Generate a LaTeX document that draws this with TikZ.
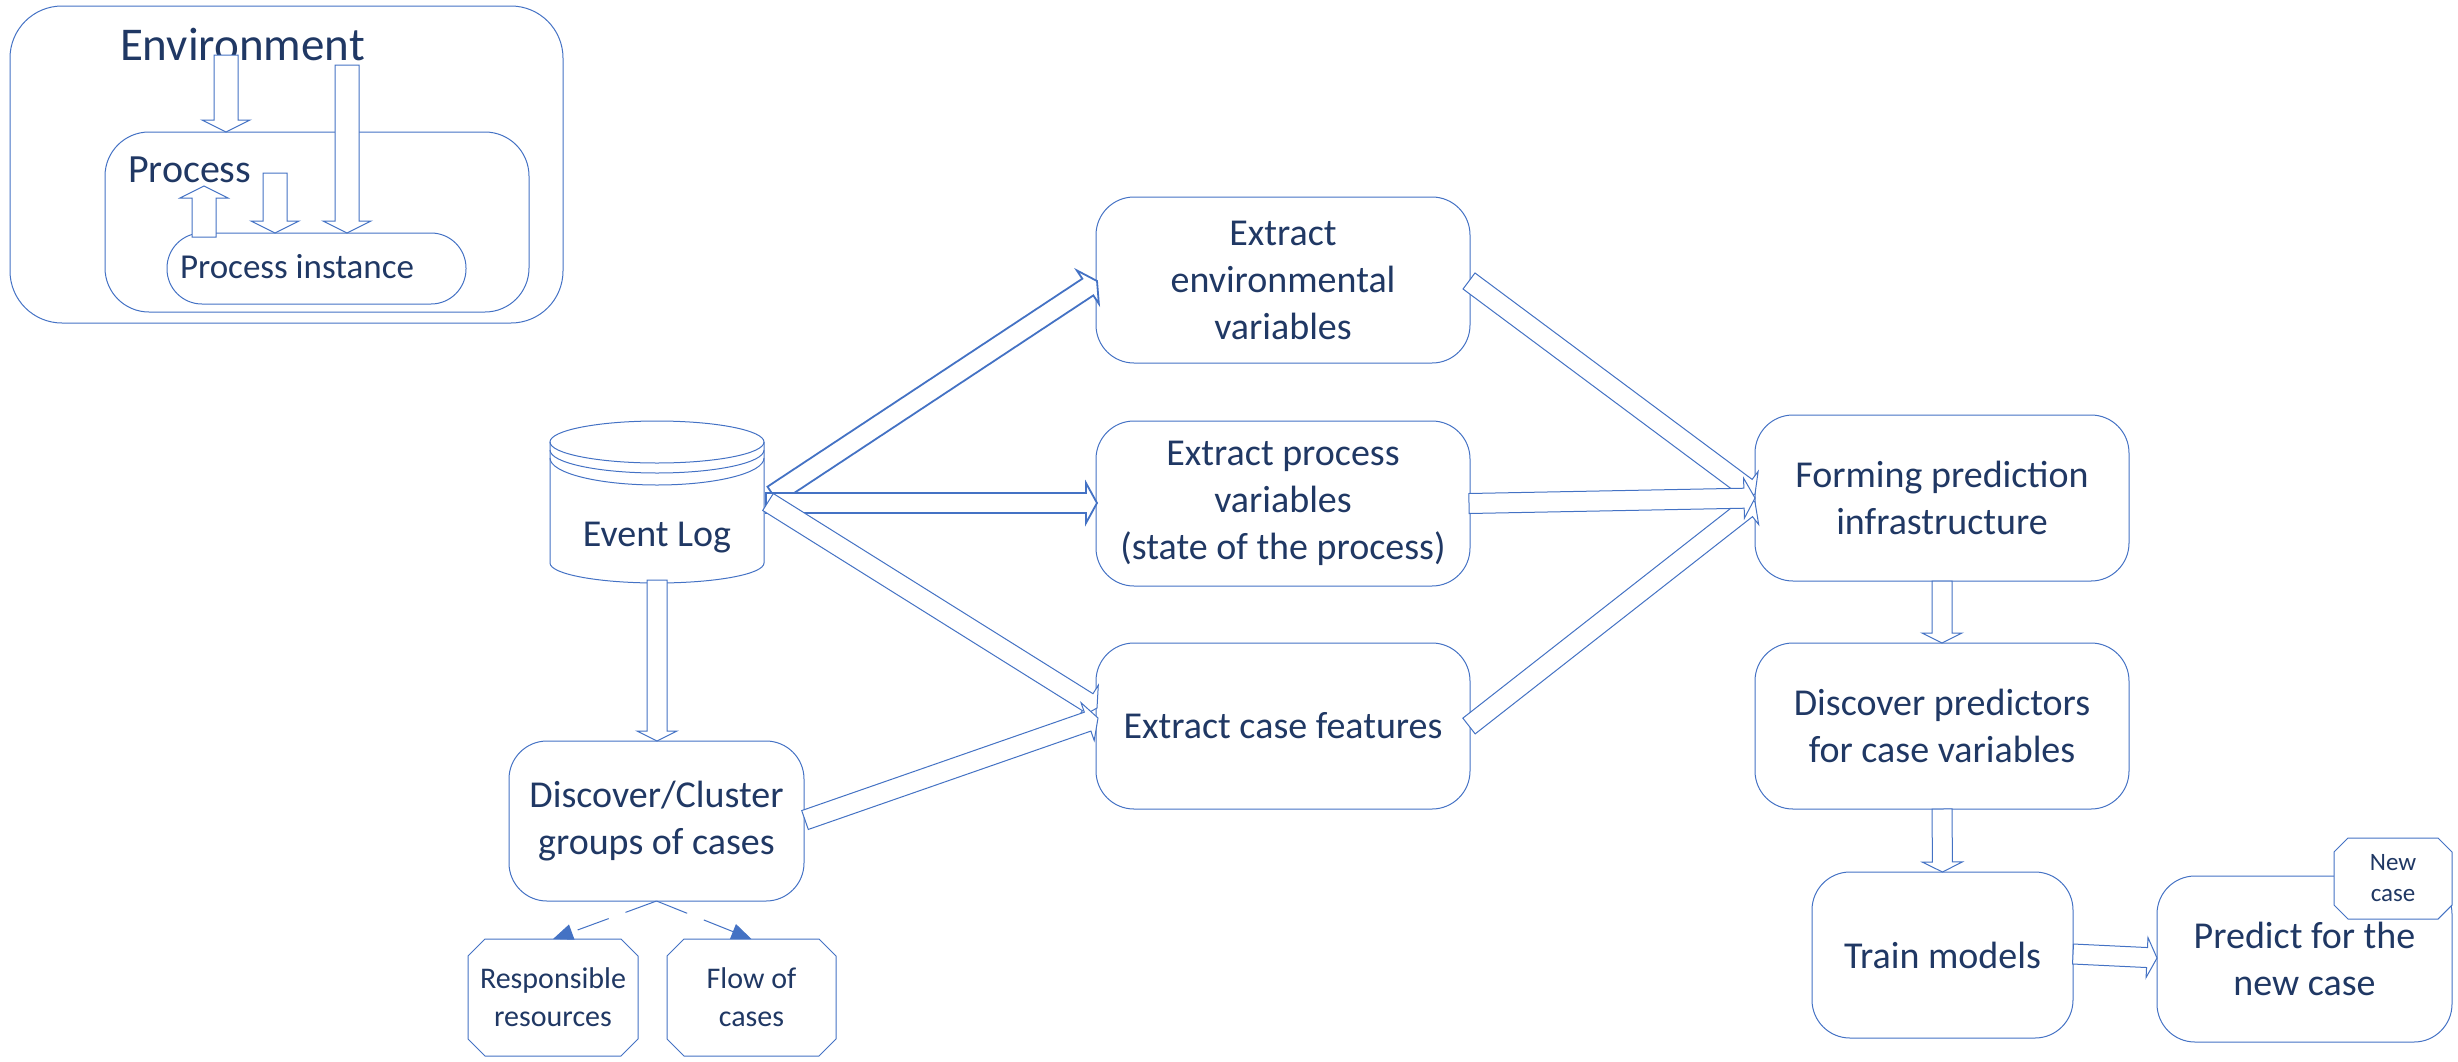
\documentclass[tikz,border=0pt]{standalone}
\usepackage{fontspec}
\setmainfont{Carlito}
\usetikzlibrary{calc,arrows.meta}
\definecolor{lineblue}{HTML}{4472C4}
\definecolor{textblue}{HTML}{203864}

\tikzset{
  stage/.style={draw=lineblue, line width=1pt, rounded corners=38pt, inner sep=0pt, outer sep=0pt,
    align=center, text=textblue, font=\fontsize{38}{47}\selectfont},
  tag/.style={inner sep=0pt, outer sep=0pt, align=center, text=textblue},
  octoline/.style={draw=lineblue, fill=white, line width=1pt, line join=miter},
  blockarrow/.style={draw=lineblue, fill=white, line width=1pt, line join=miter},
  boldarrow/.style={line width=1.8pt},
  dashlink/.style={draw=lineblue, line width=1pt, dash pattern=on 33pt off 18pt,
    -{Triangle[length=20pt,width=16pt]}},
}

% block arrow: [style]{tail}{tip}{half shaft}{half head}{head length}
\newcommand\blockarr[6][]{%
  \coordinate (bahead) at ($(#3)!#6!(#2)$);
  \draw[blockarrow,#1] ($(#2)!#4!90:(#3)$) -- ($(bahead)!#4!90:(#3)$) -- ($(bahead)!#5!90:(#3)$)
    -- (#3) -- ($(bahead)!#5!-90:(#3)$) -- ($(bahead)!#4!-90:(#3)$) -- ($(#2)!#4!-90:(#3)$) -- cycle;
}

% octagon frame: {cx}{cy}{half width}{half height}{chamfer}
\newcommand\octframe[5]{%
  \draw[octoline] ({#1-#3+#5},{#2-#4}) -- ({#1+#3-#5},{#2-#4}) -- ({#1+#3},{#2-#4+#5})
    -- ({#1+#3},{#2+#4-#5}) -- ({#1+#3-#5},{#2+#4}) -- ({#1-#3+#5},{#2+#4})
    -- ({#1-#3},{#2+#4-#5}) -- ({#1-#3},{#2-#4+#5}) -- cycle;
}

\begin{document}
\begin{tikzpicture}[x=1pt,y=-1pt]
\useasboundingbox (0,0) rectangle (2458,1061);

% ---------- context: environment / process / instance ----------
\node[stage, rounded corners=52pt, minimum width=553pt, minimum height=317pt] (envbox) at (286.5,164.5) {};
\node[stage, rounded corners=44pt, minimum width=424pt, minimum height=180pt] (procbox) at (317,222) {};
\node[stage, rounded corners=35pt, minimum width=299pt, minimum height=71pt] (instbox) at (316.5,268.5) {};
\node[tag, anchor=base west, font=\fontsize{47}{56}\selectfont] (envlabel) at (120,60) {Environment};
\node[tag, anchor=base west, font=\fontsize{40}{48}\selectfont] (proclabel) at (128,182) {Process};
\node[tag, anchor=base west, font=\fontsize{35}{42}\selectfont] (instlabel) at (180,278) {Process instance};

\coordinate (ca1) at (226,55);  \coordinate (cb1) at (procbox.north -| ca1);
\coordinate (ca2) at (347,65);  \coordinate (cb2) at (instbox.north -| ca2);
\coordinate (ca3) at (275,173); \coordinate (cb3) at (instbox.north -| ca3);
\coordinate (ca4) at (204,237); \coordinate (cb4) at (204,186);
\blockarr{ca1}{cb1}{12pt}{24pt}{12pt}
\blockarr{ca2}{cb2}{12pt}{24pt}{12pt}
\blockarr{ca3}{cb3}{12pt}{24pt}{12pt}
\blockarr{ca4}{cb4}{12pt}{24pt}{12pt}

% ---------- event log cylinder ----------
\node[tag, minimum width=214pt, minimum height=162pt] (evlog) at (657,502) {};
\begin{scope}[line width=1pt]
  \draw[lineblue] (657,442) ellipse [x radius=107pt, y radius=21pt];
  \draw[lineblue] (550,450) arc[start angle=180, end angle=360, x radius=107pt, y radius=23pt];
  \draw[lineblue] (550,458) arc[start angle=180, end angle=360, x radius=107pt, y radius=27pt];
  \draw[lineblue] (550,442) -- (550,563) arc[start angle=180, end angle=360, x radius=107pt, y radius=20pt] -- (764,442);
\end{scope}
\node[tag, anchor=base, font=\fontsize{38}{47}\selectfont] (evlogtext) at (657,546) {Event Log};

% ---------- stages ----------
\node[stage, minimum width=374pt, minimum height=166pt] (envx) at (1283,280) {Extract\\environmental\\variables};
\node[stage, minimum width=374pt, minimum height=165pt] (procx) at (1283,503.5) {Extract process\\variables\\(state of the process)};
\node[stage, minimum width=374pt, minimum height=166pt] (casex) at (1283,726) {Extract case features};
\node[stage, minimum width=374pt, minimum height=166pt] (form) at (1942,498) {Forming prediction\\infrastructure};
\node[stage, minimum width=374pt, minimum height=166pt] (predictors) at (1942,726) {Discover predictors\\for case variables};
\node[stage, minimum width=261pt, minimum height=166pt] (train) at (1942.5,955) {Train models};
\node[stage, minimum width=295pt, minimum height=166pt] (predict) at (2304.5,959) {Predict for the\\new case};
\node[stage, minimum width=295pt, minimum height=160pt] (cluster) at (656.5,821) {Discover/Cluster\\groups of cases};

% ---------- octagonal notes ----------
\octframe{553}{997.5}{85}{58.5}{17}
\node[tag, minimum width=170pt, minimum height=117pt, font=\fontsize{30}{38}\selectfont] (resp) at (553,997.5) {Responsible\\resources};
\octframe{751.5}{997.5}{84.5}{58.5}{17}
\node[tag, minimum width=169pt, minimum height=117pt, font=\fontsize{30}{38}\selectfont] (flow) at (751.5,997.5) {Flow of\\cases};
\octframe{2393}{878.5}{59}{40.5}{14}
\node[tag, minimum width=118pt, minimum height=81pt, font=\fontsize{25}{31}\selectfont] (newcase) at (2393,878.5) {New\\case};

% ---------- connectors ----------
\coordinate (e1a) at ($(evlog.east)+(9,-7)$);   \coordinate (e1b) at ($(envx.west)+(1,1)$);
\coordinate (e2a) at ($(evlog.east)+(2,1)$);    \coordinate (e2b) at ($(procx.west)+(1,-0.5)$);
\coordinate (e3a) at ($(evlog.east)+(4,0)$);    \coordinate (e3b) at ($(casex.west)+(1,-18)$);
\blockarr[boldarrow]{e1a}{e1b}{10pt}{20pt}{11pt}
\blockarr[boldarrow]{e2a}{e2b}{10pt}{20pt}{11pt}
\blockarr{e3a}{e3b}{10pt}{20pt}{11pt}

\coordinate (e4a) at ($(evlog.south)+(0,-3)$);  \coordinate (e4b) at (cluster.north -| e4a);
\blockarr{e4a}{e4b}{10pt}{20pt}{10pt}
\coordinate (e5a) at ($(cluster.east)+(1,-1)$); \coordinate (e5b) at ($(casex.west)+(2,-8)$);
\blockarr{e5a}{e5b}{10pt}{20pt}{11pt}

\coordinate (e6a) at ($(envx.east)+(-1,1)$);    \coordinate (e6b) at ($(form.west)+(0,-4)$);
\coordinate (e7a) at ($(casex.east)+(-1,0)$);   \coordinate (e7b) at ($(form.west)+(0,4)$);
\coordinate (e8a) at ($(procx.east)+(-1,0)$);   \coordinate (e8b) at (form.west);
\blockarr{e6a}{e6b}{10pt}{20pt}{11pt}
\blockarr{e7a}{e7b}{10pt}{20pt}{11pt}
\blockarr{e8a}{e8b}{10pt}{20pt}{11pt}

\blockarr{form.south}{predictors.north}{10pt}{20pt}{10pt}
\blockarr{predictors.south}{train.north}{10pt}{20pt}{10pt}
\coordinate (e11a) at ($(train.east)+(0,-1)$);  \coordinate (e11b) at ($(predict.west)+(0,-1)$);
\blockarr{e11a}{e11b}{10pt}{20pt}{10pt}

\draw[dashlink] (cluster.south) -- (resp.north);
\draw[dashlink] (cluster.south) -- (flow.north);

\end{tikzpicture}
\end{document}
